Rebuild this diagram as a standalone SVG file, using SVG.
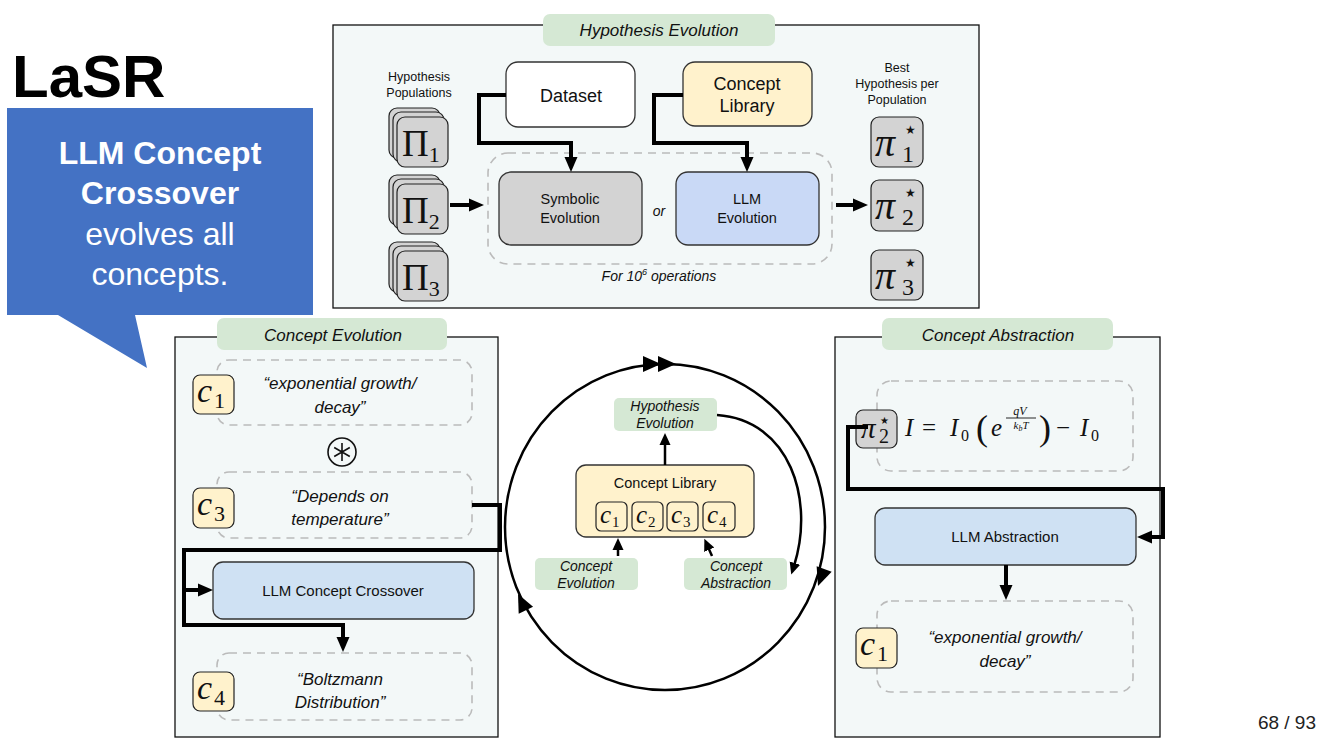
<svg xmlns="http://www.w3.org/2000/svg" xmlns:xlink="http://www.w3.org/1999/xlink" width="1334" height="750" viewBox="0 0 1334 750">
<style>
.sans{font-family:"Liberation Sans",Arial,sans-serif;}
.ser{font-family:"Liberation Serif","DejaVu Serif",serif;}
.panel{fill:#f3f8f8;stroke:#111;stroke-width:1.3;}
.pill{fill:#d5e8d4;}
.plbl{font-family:"Liberation Sans",Arial,sans-serif;font-style:italic;font-size:17px;fill:#111;text-anchor:middle;}
.slbl{font-family:"Liberation Sans",Arial,sans-serif;font-style:italic;font-size:14px;fill:#111;text-anchor:middle;}
.dash{fill:none;stroke:#bbb;stroke-width:1.6;stroke-dasharray:8,6;}
.box{stroke:#333;stroke-width:1.3;}
.gray{fill:#d3d3d3;stroke:#222;stroke-width:1.2;}
.yel{fill:#fff2cc;stroke:#222;stroke-width:1.2;}
.btxt{font-family:"Liberation Sans",Arial,sans-serif;fill:#111;text-anchor:middle;}
.qt{font-family:"Liberation Sans",Arial,sans-serif;font-style:italic;font-size:17px;fill:#111;text-anchor:middle;}
.conn{fill:none;stroke:#000;stroke-width:4;}
.thin{fill:none;stroke:#000;stroke-width:2.5;}
.ci{font-family:"Liberation Serif","DejaVu Serif",serif;font-style:italic;fill:#111;}
.cn{font-family:"Liberation Serif","DejaVu Serif",serif;fill:#111;}
</style>
<defs>
<marker id="arr" markerUnits="userSpaceOnUse" markerWidth="16" markerHeight="16" viewBox="0 0 16 16" refX="4" refY="8" orient="auto"><path d="M0,1.5 L15,8 L0,14.5 Z" fill="#000"/></marker>
<marker id="arrs" markerUnits="userSpaceOnUse" markerWidth="13" markerHeight="13" viewBox="0 0 13 13" refX="3" refY="6.5" orient="auto"><path d="M0,1 L12,6.5 L0,12 Z" fill="#000"/></marker>
<path id="ah" d="M0,0 L-18,-8 L-18,8 Z" fill="#000"/>
</defs>
<rect width="1334" height="750" fill="#fff"/>

<!-- Title and callout -->
<g id="title">
<text x="12" y="97" class="sans" font-size="60" font-weight="bold" fill="#000">LaSR</text>
</g>
<g id="callout">
<path d="M7,108 H313 V315 H135 L147,368 L58,315 H7 Z" fill="#4472c4"/>
<text x="160" y="164" class="sans" font-size="32" font-weight="bold" fill="#fff" text-anchor="middle">LLM Concept</text>
<text x="160" y="204" class="sans" font-size="32" font-weight="bold" fill="#fff" text-anchor="middle">Crossover</text>
<text x="160" y="245" class="sans" font-size="32" fill="#fff" text-anchor="middle">evolves all</text>
<text x="160" y="285" class="sans" font-size="32" fill="#fff" text-anchor="middle">concepts.</text>
</g>

<!-- Hypothesis Evolution panel -->
<g id="hyp-panel">
<rect x="333" y="25" width="646" height="283" class="panel"/>
<rect x="543" y="14" width="232" height="32" rx="7" class="pill"/>
<text x="659" y="36" class="plbl">Hypothesis Evolution</text>
<rect x="488" y="153" width="344" height="111" rx="20" class="dash"/>
<text x="659" y="281" class="sans" font-size="14" font-style="italic" fill="#111" text-anchor="middle">For 10<tspan font-size="9" dy="-6">6</tspan><tspan dy="6"> operations</tspan></text>
<text x="659" y="216" class="sans" font-size="14" font-style="italic" fill="#111" text-anchor="middle">or</text>
<text x="419" y="81" class="btxt" font-size="12.5">Hypothesis</text>
<text x="419" y="97" class="btxt" font-size="12.5">Populations</text>
<text x="897" y="72" class="btxt" font-size="12.5">Best</text>
<text x="897" y="88" class="btxt" font-size="12.5">Hypothesis per</text>
<text x="897" y="104" class="btxt" font-size="12.5">Population</text>
</g>

<g id="pop1">
<rect x="389" y="108" width="51" height="50" rx="8" class="gray"/>
<rect x="393" y="112" width="51" height="50" rx="8" class="gray"/>
<rect x="397" y="117" width="51" height="50" rx="8" class="gray"/>
<text x="402" y="156" class="cn" font-size="37">Π<tspan font-size="22" dy="6">1</tspan></text>
</g>
<g id="pop2">
<rect x="389" y="175" width="51" height="50" rx="8" class="gray"/>
<rect x="393" y="179" width="51" height="50" rx="8" class="gray"/>
<rect x="397" y="184" width="51" height="50" rx="8" class="gray"/>
<text x="402" y="223" class="cn" font-size="37">Π<tspan font-size="22" dy="6">2</tspan></text>
</g>
<g id="pop3">
<rect x="389" y="242" width="51" height="50" rx="8" class="gray"/>
<rect x="393" y="246" width="51" height="50" rx="8" class="gray"/>
<rect x="397" y="251" width="51" height="50" rx="8" class="gray"/>
<text x="402" y="290" class="cn" font-size="37">Π<tspan font-size="22" dy="6">3</tspan></text>
</g>

<g id="dataset">
<rect x="506" y="62" width="129" height="65" rx="12" fill="#fff" class="box"/>
<text x="571" y="102" class="btxt" font-size="18">Dataset</text>
</g>
<g id="concept-library-top">
<rect x="683" y="62" width="129" height="64" rx="12" fill="#fff2cc" class="box"/>
<text x="747" y="90" class="btxt" font-size="18">Concept</text>
<text x="747" y="112" class="btxt" font-size="18">Library</text>
</g>
<g id="symbolic-evolution">
<rect x="499" y="172" width="143" height="73" rx="12" fill="#d3d3d3" class="box"/>
<text x="570" y="204" class="btxt" font-size="14.5">Symbolic</text>
<text x="570" y="223" class="btxt" font-size="14.5">Evolution</text>
</g>
<g id="llm-evolution">
<rect x="676" y="172" width="143" height="73" rx="12" fill="#c9d9f6" class="box"/>
<text x="747" y="204" class="btxt" font-size="14.5">LLM</text>
<text x="747" y="223" class="btxt" font-size="14.5">Evolution</text>
</g>

<g id="best1">
<rect x="871" y="117" width="52" height="50" rx="8" class="gray"/>
<text x="875" y="156" class="ci" font-size="40">π</text>
<text x="905" y="134" class="cn" font-size="12">★</text>
<text x="902" y="162" class="cn" font-size="24">1</text>
</g>
<g id="best2">
<rect x="871" y="180" width="52" height="51" rx="8" class="gray"/>
<text x="875" y="219" class="ci" font-size="40">π</text>
<text x="905" y="197" class="cn" font-size="12">★</text>
<text x="902" y="225" class="cn" font-size="24">2</text>
</g>
<g id="best3">
<rect x="871" y="250" width="52" height="50" rx="8" class="gray"/>
<text x="875" y="289" class="ci" font-size="40">π</text>
<text x="905" y="267" class="cn" font-size="12">★</text>
<text x="902" y="295" class="cn" font-size="24">3</text>
</g>

<!-- Concept Evolution panel -->
<g id="ce-panel">
<rect x="175" y="337" width="323" height="400" class="panel"/>
<rect x="217" y="318" width="230" height="32" rx="7" class="pill"/>
<text x="333" y="341" class="plbl">Concept Evolution</text>
</g>
<g id="ce-c1">
<rect x="217" y="360" width="255" height="65" rx="12" class="dash"/>
<rect x="193" y="375" width="41" height="39" rx="7" class="yel"/>
<text x="197" y="402" class="ci" font-size="34">c</text>
<text x="214" y="408" class="cn" font-size="22">1</text>
<text x="340" y="389" class="qt">“exponential growth/</text>
<text x="340" y="413" class="qt">decay”</text>
</g>
<g id="ce-op">
<circle cx="342" cy="452" r="14" fill="none" stroke="#111" stroke-width="1.6"/>
<path d="M342,443 V461 M334.2,447.5 L349.8,456.5 M334.2,456.5 L349.8,447.5" stroke="#111" stroke-width="1.6" fill="none"/>
</g>
<g id="ce-c3">
<rect x="217" y="472" width="255" height="66" rx="12" class="dash"/>
<rect x="193" y="488" width="41" height="40" rx="7" class="yel"/>
<text x="197" y="515" class="ci" font-size="34">c</text>
<text x="214" y="521" class="cn" font-size="22">3</text>
<text x="340" y="502" class="qt">“Depends on</text>
<text x="340" y="525" class="qt">temperature”</text>
</g>
<g id="ce-crossover">
<rect x="213" y="562" width="261" height="57" rx="10" fill="#cfe1f3" class="box"/>
<text x="343" y="596" class="btxt" font-size="15">LLM Concept Crossover</text>
</g>
<g id="ce-c4">
<rect x="217" y="653" width="255" height="67" rx="12" class="dash"/>
<rect x="193" y="672" width="41" height="39" rx="7" class="yel"/>
<text x="197" y="699" class="ci" font-size="34">c</text>
<text x="214" y="705" class="cn" font-size="22">4</text>
<text x="340" y="685" class="qt">“Boltzmann</text>
<text x="340" y="708" class="qt">Distribution”</text>
</g>

<!-- Concept Abstraction panel -->
<g id="ca-panel">
<rect x="835" y="337" width="325" height="400" class="panel"/>
<rect x="882" y="318" width="231" height="32" rx="7" class="pill"/>
<text x="998" y="341" class="plbl">Concept Abstraction</text>
</g>
<g id="ca-eq">
<rect x="877" y="381" width="256" height="90" rx="14" class="dash"/>
<rect x="856" y="410" width="41" height="38" rx="7" class="gray"/>
<text x="861" y="438" class="ci" font-size="29">π</text>
<text x="880" y="424" class="cn" font-size="10">★</text>
<text x="879" y="443" class="cn" font-size="20">2</text>
<text x="905" y="436" class="ci" font-size="25">I</text>
<text x="922" y="436" class="cn" font-size="25">=</text>
<text x="950" y="436" class="ci" font-size="25">I</text>
<text x="961" y="441" class="cn" font-size="16">0</text>
<text x="976" y="440" class="cn" font-size="36">(</text>
<text x="991" y="436" class="ci" font-size="25">e</text>
<text x="1020" y="415" class="ci" font-size="12" text-anchor="middle">qV</text>
<line x1="1006" y1="418" x2="1036" y2="418" stroke="#111" stroke-width="0.9"/>
<text x="1021" y="429" class="ci" font-size="11" text-anchor="middle">k<tspan font-size="8" dy="2">b</tspan><tspan dy="-2">T</tspan></text>
<text x="1039" y="440" class="cn" font-size="36">)</text>
<text x="1056" y="436" class="cn" font-size="25">−</text>
<text x="1080" y="436" class="ci" font-size="25">I</text>
<text x="1091" y="441" class="cn" font-size="16">0</text>
</g>
<g id="ca-llm">
<rect x="875" y="508" width="261" height="57" rx="10" fill="#cfe1f3" class="box"/>
<text x="1005" y="542" class="btxt" font-size="15">LLM Abstraction</text>
</g>
<g id="ca-c1">
<rect x="877" y="601" width="256" height="91" rx="14" class="dash"/>
<rect x="856" y="628" width="41" height="40" rx="7" class="yel"/>
<text x="860" y="655" class="ci" font-size="34">c</text>
<text x="877" y="661" class="cn" font-size="22">1</text>
<text x="1005" y="643" class="qt">“exponential growth/</text>
<text x="1005" y="667" class="qt">decay”</text>
</g>

<!-- Center loop -->
<g id="loop">
<ellipse cx="665" cy="527" rx="160" ry="163" fill="none" stroke="#000" stroke-width="2.5"/>
<use xlink:href="#ah" transform="translate(661,364)"/>
<use xlink:href="#ah" transform="translate(676,364)"/>
<use xlink:href="#ah" transform="translate(818,586) rotate(110)"/>
<use xlink:href="#ah" transform="translate(518,594) rotate(-116)"/>
</g>
<g id="loop-hyp">
<rect x="614" y="398" width="103" height="33" rx="5" class="pill"/>
<text x="665" y="411" class="slbl">Hypothesis</text>
<text x="665" y="428" class="slbl">Evolution</text>
</g>
<g id="loop-library">
<rect x="576" y="465" width="178" height="72" rx="10" fill="#fff2cc" class="box"/>
<text x="665" y="488" class="btxt" font-size="14.5">Concept Library</text>
<rect x="596" y="502" width="31" height="29" rx="5" class="yel"/>
<text x="600" y="523" class="ci" font-size="25">c</text><text x="612" y="527" class="cn" font-size="15">1</text>
<rect x="632" y="502" width="31" height="29" rx="5" class="yel"/>
<text x="636" y="523" class="ci" font-size="25">c</text><text x="648" y="527" class="cn" font-size="15">2</text>
<rect x="667" y="502" width="31" height="29" rx="5" class="yel"/>
<text x="671" y="523" class="ci" font-size="25">c</text><text x="683" y="527" class="cn" font-size="15">3</text>
<rect x="703" y="502" width="32" height="29" rx="5" class="yel"/>
<text x="707" y="523" class="ci" font-size="25">c</text><text x="719" y="527" class="cn" font-size="15">4</text>
</g>
<g id="loop-ce">
<rect x="535" y="558" width="103" height="32" rx="5" class="pill"/>
<text x="586" y="571" class="slbl">Concept</text>
<text x="586" y="588" class="slbl">Evolution</text>
</g>
<g id="loop-ca">
<rect x="684" y="558" width="103" height="32" rx="5" class="pill"/>
<text x="736" y="571" class="slbl">Concept</text>
<text x="736" y="588" class="slbl">Abstraction</text>
</g>

<!-- Connectors -->
<g id="connectors">
<path d="M506,95 H479 V143 H571 V161" class="conn" marker-end="url(#arr)"/>
<path d="M683,95 H654 V143 H747 V161" class="conn" marker-end="url(#arr)"/>
<path d="M450,205 H473" class="conn" marker-end="url(#arr)"/>
<path d="M836,205 H857" class="conn" marker-end="url(#arr)"/>
<path d="M472,505 H500 V550 H184 V625 H343 V641" class="conn" marker-end="url(#arr)"/>
<path d="M184,590 H202" class="conn" marker-end="url(#arr)"/>
<path d="M868,427 H848 V489 H1163 V537 H1148" class="conn" marker-end="url(#arr)"/>
<path d="M1006,565 V589" class="conn" marker-end="url(#arr)"/>
<path d="M665,465 V442" class="thin" marker-end="url(#arrs)"/>
<path d="M618,556 V547" class="thin" marker-end="url(#arrs)"/>
<path d="M712,556 L708,547" class="thin" marker-end="url(#arrs)"/>
<path d="M717,415 C790,420 815,500 794,566" class="thin" stroke-width="3" marker-end="url(#arrs)"/>
</g>

<g id="page-number">
<text x="1316" y="729" class="sans" font-size="19" fill="#222" text-anchor="end">68 / 93</text>
</g>
</svg>
